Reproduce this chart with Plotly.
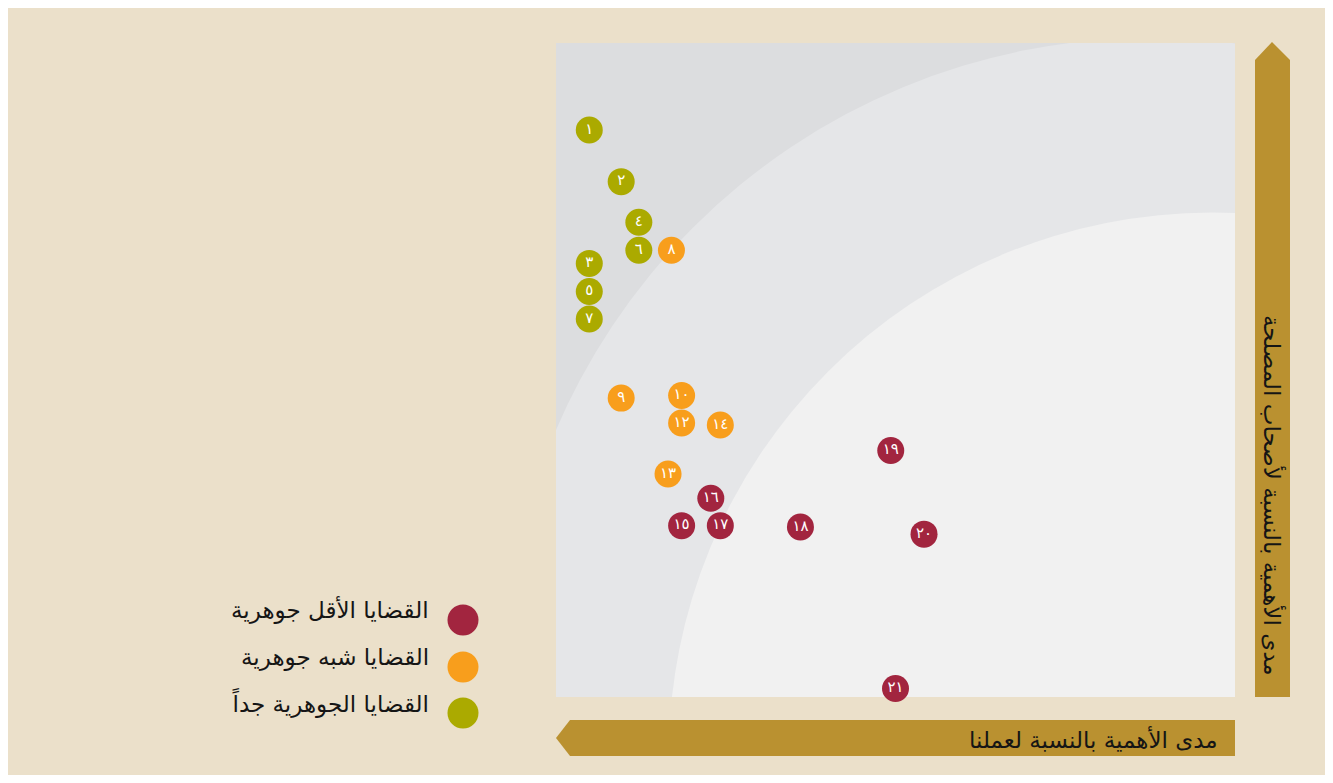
import plotly.graph_objects as go

# ---------------- data ----------------
labels = ["١", "٢", "٣", "٤", "٥", "٦", "٧",
          "٨", "٩", "١٠", "١٢", "١٣", "١٤",
          "١٥", "١٦", "١٧", "١٨", "١٩", "٢٠", "٢١"]
# importance to our business (x) and to stakeholders (y), 0-10 scale
x_business = [0.49, 0.96, 0.49, 1.22, 0.49, 1.22, 0.49,
              1.70, 0.96, 1.85, 1.85, 1.65, 2.42,
              1.85, 2.28, 2.42, 3.60, 4.93, 5.42, 5.00]
y_stake = [8.67, 7.88, 6.63, 7.26, 6.20, 6.83, 5.78,
           6.83, 4.57, 4.61, 4.19, 3.41, 4.16,
           2.62, 3.04, 2.62, 2.60, 3.77, 2.49, 0.13]
groups = [2, 2, 2, 2, 2, 2, 2,
          1, 1, 1, 1, 1, 1,
          0, 0, 0, 0, 0, 0, 0]
group_names = ["القضايا الأقل جوهرية", "القضايا شبه جوهرية", "القضايا الجوهرية جداً"]
group_colors = ["#A2253F", "#F89E1C", "#ABAA00"]
x_title = "مدى الأهمية بالنسبة لعملنا"
y_title = "مدى الأهمية بالنسبة لأصحاب المصلحة"

# page body has an 8px margin: figure fills the rest of the 1333x783 window
OFF = 8
W, H = 1333 - 2 * OFF, 783 - 2 * OFF
FONT = "DejaVu Sans"
BEIGE = "#EBE0CA"
GOLD = "#BA9130"
TXT = "#151515"


def px(x, y):
    """window pixel -> paper coordinates"""
    return (x - OFF) / W, 1 - (y - OFF) / H


def path(points):
    s = ""
    for i, (x, y) in enumerate(points):
        X, Y = px(x, y)
        s += ("M" if i == 0 else "L") + f"{X:.5f},{Y:.5f} "
    return s + "Z"


fig = go.Figure()

for g in range(3):
    idx = [i for i in range(len(labels)) if groups[i] == g]
    fig.add_trace(go.Scatter(
        x=[x_business[i] for i in idx],
        y=[y_stake[i] for i in idx],
        text=[labels[i] for i in idx],
        mode="markers+text",
        marker=dict(size=27, color=group_colors[g], line=dict(width=0)),
        textfont=dict(color="white", size=15, family=FONT),
        textposition="middle center",
        cliponaxis=False,
        name=group_names[g],
        showlegend=False,
        hoverinfo="skip",
    ))

shapes = []
# background bands (circles, clipped to plot area)
shapes.append(dict(type="circle", xref="x", yref="y", x0=-0.772, x1=18.29, y0=-9.714, y1=10.078,
                   fillcolor="#E5E6E8", line=dict(width=0), layer="below"))
shapes.append(dict(type="circle", xref="x", yref="y", x0=1.661, x1=17.664, y0=-9.206, y1=7.408,
                   fillcolor="#F1F1F1", line=dict(width=0), layer="below"))
# axis arrows
shapes.append(dict(type="path", xref="paper", yref="paper",
                   path=path([(1235, 720), (570, 720), (556, 738), (570, 756), (1235, 756)]),
                   fillcolor=GOLD, line=dict(width=0)))
shapes.append(dict(type="path", xref="paper", yref="paper",
                   path=path([(1255, 697), (1255, 60), (1272, 42), (1290, 60), (1290, 697)]),
                   fillcolor=GOLD, line=dict(width=0)))
# legend circles
legend_y = [620, 667, 713]
for g, yy in zip([0, 1, 2], legend_y):
    x0, y0 = px(463 - 15.5, yy + 15.5)
    x1, y1 = px(463 + 15.5, yy - 15.5)
    shapes.append(dict(type="circle", xref="paper", yref="paper", x0=x0, y0=y0, x1=x1, y1=y1,
                       fillcolor=group_colors[g], line=dict(width=0)))

annotations = []
ax, ay = px(1220, 739)
annotations.append(dict(text=x_title, x=ax, y=ay, xref="paper", yref="paper", showarrow=False,
                        xanchor="right", yanchor="middle", font=dict(size=23, color=TXT, family=FONT)))
vx, vy = px(1273, 495)
annotations.append(dict(text=y_title, x=vx, y=vy, xref="paper", yref="paper", showarrow=False,
                        textangle=90, xanchor="center", yanchor="middle",
                        font=dict(size=23, color=TXT, family=FONT)))
for g, yy in zip([0, 1, 2], [610, 657, 703]):
    tx, ty = px(431, yy)
    annotations.append(dict(text=group_names[g], x=tx, y=ty, xref="paper", yref="paper", showarrow=False,
                            xanchor="right", yanchor="middle", font=dict(size=23, color=TXT, family=FONT)))

x_dom = [(556 - OFF) / W, (1235 - OFF) / W]
y_dom = [1 - (697 - OFF) / H, 1 - (43 - OFF) / H]

fig.update_layout(
    width=W, height=H,
    margin=dict(l=0, r=0, t=0, b=0),
    paper_bgcolor=BEIGE,
    plot_bgcolor="#DCDDDF",
    shapes=shapes,
    annotations=annotations,
    xaxis=dict(domain=x_dom, range=[0, 10], showgrid=False, zeroline=False,
               showticklabels=False, ticks="", fixedrange=True),
    yaxis=dict(domain=y_dom, range=[0, 10], showgrid=False, zeroline=False,
               showticklabels=False, ticks="", fixedrange=True),
    font=dict(family=FONT),
)

fig.write_html("out.html")
